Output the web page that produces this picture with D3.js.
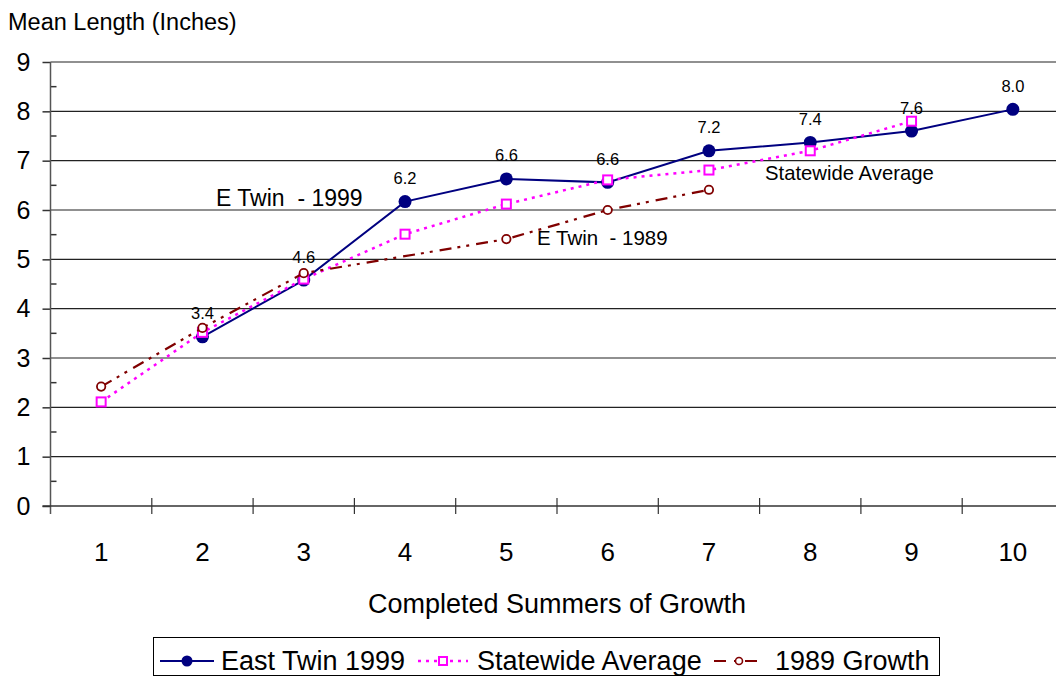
<!DOCTYPE html>
<html>
<head>
<meta charset="utf-8">
<script src="https://cdn.jsdelivr.net/npm/d3@7"></script>
<style>
  html, body { margin: 0; padding: 0; background: #fff; }
  svg { display: block; font-family: Arial, "Liberation Sans", sans-serif; }
  text { white-space: pre; }
</style>
</head>
<body>
<svg id="chart" width="1056" height="679"></svg>
<script>
// Mean length by completed summers of growth
const categories = [1, 2, 3, 4, 5, 6, 7, 8, 9, 10];
const eastTwin1999 = [null, 3.43, 4.58, 6.17, 6.63, 6.56, 7.2, 7.37, 7.6, 8.04];
const statewideAverage = [2.11, 3.52, 4.6, 5.51, 6.12, 6.61, 6.81, 7.2, 7.8, null];
const growth1989 = [2.42, 3.61, 4.72, null, 5.41, 6.0, 6.41, null, null, null];
const yTicks = [0, 1, 2, 3, 4, 5, 6, 7, 8, 9];
const yMinorTicks = [0.5, 1.5, 2.5, 3.5, 4.5, 5.5, 6.5, 7.5, 8.5];
const seriesNames = ["East Twin 1999", "Statewide Average", "1989 Growth"];

const svg = d3.select("#chart");
const plotLeft = 50.5, plotTop = 62, plotBottom = 506;
const step = 101.3;

const x = d3.scaleBand().domain(categories).range([plotLeft, plotLeft + step * categories.length]).padding(0);
const y = d3.scaleLinear().domain([0, 9]).range([plotBottom, plotTop]);
const cx = c => x(c) + x.bandwidth() / 2;

// Horizontal gridlines
svg.append("g").selectAll("line").data(yTicks.filter(d => d > 0)).join("line")
  .attr("x1", plotLeft).attr("x2", 1056)
  .attr("y1", d => y(d)).attr("y2", d => y(d))
  .attr("stroke", "#222").attr("stroke-width", 1.2);

// Y axis with outer major ticks and inner minor ticks
const yAxis = svg.append("g").attr("transform", `translate(${plotLeft},0)`)
  .call(d3.axisLeft(y).tickValues(yTicks).tickSize(8).tickPadding(12).tickFormat(d3.format("d")));
yAxis.select(".domain").remove();
yAxis.selectAll(".tick line").attr("stroke", "#333").attr("stroke-width", 1.5);
yAxis.selectAll(".tick text").attr("font-size", 25).attr("fill", "#000")
  .attr("font-family", "Arial, 'Liberation Sans', sans-serif");
svg.append("g").selectAll("line").data(yMinorTicks).join("line")
  .attr("x1", plotLeft).attr("x2", plotLeft + 6)
  .attr("y1", d => y(d)).attr("y2", d => y(d))
  .attr("stroke", "#333").attr("stroke-width", 1.5);
svg.append("line").attr("x1", plotLeft).attr("x2", plotLeft).attr("y1", plotTop).attr("y2", plotBottom + 8)
  .attr("stroke", "#555").attr("stroke-width", 1.5);

// X axis line with ticks crossing it at category boundaries
svg.append("line").attr("x1", plotLeft - 8).attr("x2", 1056).attr("y1", plotBottom).attr("y2", plotBottom)
  .attr("stroke", "#333").attr("stroke-width", 1.5);
const bounds = categories.map(c => x(c)).concat([x(categories[categories.length - 1]) + x.bandwidth()]);
svg.append("g").selectAll("line").data(bounds.slice(1)).join("line")
  .attr("x1", d => d).attr("x2", d => d)
  .attr("y1", plotBottom - 8).attr("y2", plotBottom + 8)
  .attr("stroke", "#333").attr("stroke-width", 1.2);
svg.append("g").selectAll("text").data(categories).join("text")
  .attr("x", d => cx(d)).attr("y", 561)
  .attr("text-anchor", "middle").attr("font-size", 26).text(d => d);

// Axis titles
svg.append("text").attr("x", 8).attr("y", 30).attr("font-size", 23.5).text("Mean Length (Inches)");
svg.append("text").attr("x", 557).attr("y", 613).attr("text-anchor", "middle")
  .attr("font-size", 27).text("Completed Summers of Growth");

// Series
const lineGen = d3.line().defined(d => d.v != null).x(d => cx(d.c)).y(d => y(d.v));
const pts = arr => categories.map((c, i) => ({ c, v: arr[i] })).filter(d => d.v != null);

// East Twin 1999: solid navy line, filled circles
svg.append("path").datum(pts(eastTwin1999)).attr("d", lineGen)
  .attr("fill", "none").attr("stroke", "#000080").attr("stroke-width", 2);
svg.append("g").selectAll("circle").data(pts(eastTwin1999)).join("circle")
  .attr("cx", d => cx(d.c)).attr("cy", d => y(d.v)).attr("r", 6.5).attr("fill", "#000080");

// Statewide average: dotted magenta line, hollow squares
svg.append("path").datum(pts(statewideAverage)).attr("d", lineGen)
  .attr("fill", "none").attr("stroke", "#FF00FF").attr("stroke-width", 2.5).attr("stroke-dasharray", "3,5");
svg.append("g").selectAll("rect").data(pts(statewideAverage)).join("rect")
  .attr("x", d => cx(d.c) - 4.5).attr("y", d => y(d.v) - 4.5).attr("width", 9).attr("height", 9)
  .attr("fill", "#fff").attr("stroke", "#FF00FF").attr("stroke-width", 2);

// 1989 growth: dash-dot-dot dark red line, small hollow circles
svg.append("path").datum(pts(growth1989)).attr("d", lineGen)
  .attr("fill", "none").attr("stroke", "#800000").attr("stroke-width", 2.2).attr("stroke-dasharray", "12,6,3,6,3,7");
svg.append("g").selectAll("circle").data(pts(growth1989)).join("circle")
  .attr("cx", d => cx(d.c)).attr("cy", d => y(d.v)).attr("r", 4.2)
  .attr("fill", "#fff").attr("stroke", "#800000").attr("stroke-width", 1.8);

// Value labels for East Twin 1999
svg.append("g").selectAll("text").data(pts(eastTwin1999)).join("text")
  .attr("x", d => cx(d.c)).attr("y", d => y(d.v) - 17.5)
  .attr("text-anchor", "middle").attr("font-size", 16.5).text(d => d3.format(".1f")(d.v));

// Series annotations
svg.append("text").attr("x", 216).attr("y", 206).attr("font-size", 23).text("E Twin  - 1999");
svg.append("text").attr("x", 537).attr("y", 245).attr("font-size", 20.5).text("E Twin  - 1989");
svg.append("text").attr("x", 765).attr("y", 180).attr("font-size", 20.3).text("Statewide Average");

// Legend
const lg = svg.append("g");
lg.append("rect").attr("x", 153.5).attr("y", 637.5).attr("width", 786).attr("height", 38)
  .attr("fill", "#fff").attr("stroke", "#000").attr("stroke-width", 1);
const legendItems = [
  { name: seriesNames[0], x1: 160, x2: 214, tx: 221, stroke: "#000080", dash: null, w: 2, mark: "dot" },
  { name: seriesNames[1], x1: 418, x2: 468, tx: 477, stroke: "#FF00FF", dash: "3,5", w: 2.5, mark: "square" },
  { name: seriesNames[2], x1: 714, x2: 764, tx: 775, stroke: "#800000", dash: "12,8,3,8", w: 2.2, mark: "ring" }
];
const ly = 661;
legendItems.forEach(it => {
  lg.append("line").attr("x1", it.x1).attr("x2", it.x2).attr("y1", ly).attr("y2", ly)
    .attr("stroke", it.stroke).attr("stroke-width", it.w).attr("stroke-dasharray", it.dash);
  const mx = (it.x1 + it.x2) / 2;
  if (it.mark === "dot") {
    lg.append("circle").attr("cx", mx).attr("cy", ly).attr("r", 5.5).attr("fill", it.stroke);
  } else if (it.mark === "square") {
    lg.append("rect").attr("x", mx - 4).attr("y", ly - 4).attr("width", 8).attr("height", 8)
      .attr("fill", "#fff").attr("stroke", it.stroke).attr("stroke-width", 2);
  } else {
    lg.append("circle").attr("cx", mx).attr("cy", ly).attr("r", 3.5)
      .attr("fill", "#fff").attr("stroke", it.stroke).attr("stroke-width", 1.6);
  }
  lg.append("text").attr("x", it.tx).attr("y", ly + 9).attr("font-size", 27).text(it.name);
});
</script>
</body>
</html>
